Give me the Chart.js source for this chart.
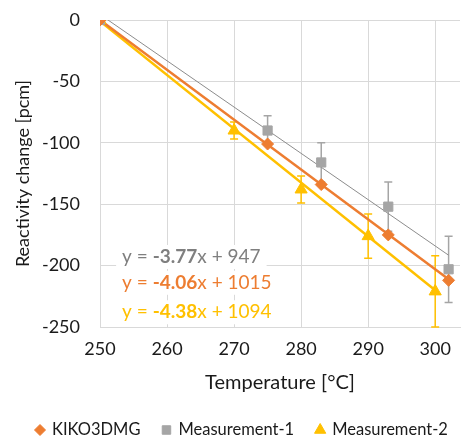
<!DOCTYPE html>
<html>
<head>
<meta charset="utf-8">
<script src="https://cdn.jsdelivr.net/npm/chart.js@4"></script>
<style>
  html, body { margin: 0; padding: 0; background: #fff; }
</style>
</head>
<body>
<canvas id="chart" width="468" height="439"></canvas>
<script>
// values
const seriesNames = ["KIKO3DMG", "Measurement-1", "Measurement-2"];
const kikoTemps = [250, 275, 283, 293, 302];
const kikoValues = [0, -101, -134, -175, -212];
const meas1Temps = [250, 275, 283, 293, 302];
const meas1Values = [0, -90, -116, -152, -203];
const meas1Errors = [0, 12, 16, 20, 27];
const meas2Temps = [250, 270, 280, 290, 300];
const meas2Values = [0, -90, -138, -176, -221];
const meas2Errors = [0, 7, 11, 18, 29];
const trendSlopes = [-4.06, -3.77, -4.38];
const trendIntercepts = [1015, 947, 1094];

const ORANGE = "#ED7D31";
const GRAY = "#A5A5A5";
const GRAY_LINE = "#8C8C8C";
const YELLOW = "#FFC000";
const TEXT = "#1a1a1a";
const FONT = "Lato";

const toPoints = (xs, ys) => xs.map((x, i) => ({ x: x, y: ys[i] }));

const trendPoints = (xs, k) => {
  const lo = Math.min(...xs), hi = Math.max(...xs);
  return [lo, hi].map((x) => ({ x: x, y: trendSlopes[k] * x + trendIntercepts[k] }));
};

// error bars, drawn under the markers
const errorBars = {
  id: "errorBars",
  beforeDatasetsDraw(chart) {
    const { ctx, scales } = chart;
    const sets = [
      { xs: meas1Temps, ys: meas1Values, err: meas1Errors, color: GRAY },
      { xs: meas2Temps, ys: meas2Values, err: meas2Errors, color: YELLOW },
    ];
    ctx.save();
    sets.forEach((s) => {
      ctx.strokeStyle = s.color;
      ctx.lineWidth = 1.5;
      s.xs.forEach((x, i) => {
        if (!s.err[i]) return;
        const px = scales.x.getPixelForValue(x);
        const top = scales.y.getPixelForValue(s.ys[i] + s.err[i]);
        const bot = scales.y.getPixelForValue(s.ys[i] - s.err[i]);
        ctx.beginPath();
        ctx.moveTo(px, top); ctx.lineTo(px, bot);
        ctx.moveTo(px - 4, top); ctx.lineTo(px + 4, top);
        ctx.moveTo(px - 4, bot); ctx.lineTo(px + 4, bot);
        ctx.stroke();
      });
    });
    ctx.restore();
  },
};

// trendline equations (white box behind, like Excel labels)
const equations = {
  id: "equations",
  afterDatasetsDraw(chart) {
    const { ctx, scales } = chart;
    const colors = [ORANGE, "#7F7F7F", YELLOW];
    const rows = [1, 0, 2];
    const anchorsY = [-193, -214, -238];
    const x0 = scales.x.getPixelForValue(253.3);
    ctx.save();
    ctx.textBaseline = "middle";
    rows.forEach((k, r) => {
      const y = scales.y.getPixelForValue(anchorsY[r]);
      const parts = [
        ["y = ", "normal"],
        [trendSlopes[k].toFixed(2), "bold"],
        ["x + " + trendIntercepts[k], "normal"],
      ];
      let w = 0;
      parts.forEach(([t, fw]) => {
        ctx.font = fw + " 19px " + FONT;
        w += ctx.measureText(t).width;
      });
      ctx.fillStyle = "#fff";
      ctx.fillRect(x0 - 6, y - 12, w + 12, 24);
      let x = x0;
      ctx.fillStyle = colors[k];
      parts.forEach(([t, fw]) => {
        ctx.font = fw + " 19px " + FONT;
        ctx.fillText(t, x, y);
        x += ctx.measureText(t).width;
      });
    });
    ctx.restore();
  },
};

// legend row along the bottom, markers drawn with Chart.js' point helper
const bottomLegend = {
  id: "bottomLegend",
  afterDraw(chart) {
    const { ctx } = chart;
    const styles = [
      { shape: "rectRot", r: 5.5, color: ORANGE },
      { shape: "rect", r: 6, color: GRAY },
      { shape: "triangle", r: 6.5, color: YELLOW },
    ];
    const y = 430;
    let x = 40;
    ctx.save();
    ctx.font = "16.5px " + FONT;
    ctx.textBaseline = "middle";
    seriesNames.forEach((name, i) => {
      const st = styles[i];
      ctx.fillStyle = st.color;
      ctx.strokeStyle = st.color;
      ctx.lineWidth = 1;
      Chart.helpers.drawPoint(ctx, { pointStyle: st.shape, radius: st.r, borderWidth: 1 }, x, y);
      ctx.fillStyle = TEXT;
      ctx.fillText(name, x + 12, y);
      x += 12 + ctx.measureText(name).width + 26;
    });
    ctx.restore();
  },
};

new Chart(document.getElementById("chart"), {
  type: "scatter",
  data: {
    datasets: [
      {
        label: seriesNames[0],
        data: toPoints(kikoTemps, kikoValues),
        pointStyle: "rectRot",
        pointRadius: 6,
        backgroundColor: ORANGE,
        borderColor: ORANGE,
        order: 0,
      },
      {
        label: seriesNames[1],
        data: toPoints(meas1Temps, meas1Values),
        pointStyle: "rect",
        pointRadius: 6.5,
        backgroundColor: GRAY,
        borderColor: GRAY,
        order: 0,
      },
      {
        label: seriesNames[2],
        data: toPoints(meas2Temps, meas2Values),
        pointStyle: "triangle",
        pointRadius: 7,
        backgroundColor: YELLOW,
        borderColor: YELLOW,
        order: 0,
      },
      {
        label: "trend-kiko",
        data: trendPoints(kikoTemps, 0),
        showLine: true,
        borderColor: ORANGE,
        borderWidth: 2.5,
        pointRadius: 0,
        order: 2,
      },
      {
        label: "trend-meas1",
        data: trendPoints(meas1Temps, 1),
        showLine: true,
        borderColor: GRAY_LINE,
        borderWidth: 1,
        pointRadius: 0,
        order: 3,
      },
      {
        label: "trend-meas2",
        data: trendPoints(meas2Temps, 2),
        showLine: true,
        borderColor: YELLOW,
        borderWidth: 2.5,
        pointRadius: 0,
        order: 2,
      },
    ],
  },
  options: {
    responsive: false,
    animation: false,
    layout: { padding: { top: 20, right: 0, left: 12, bottom: 40 } },
    plugins: {
      tooltip: { enabled: false },
      legend: { display: false },
    },
    scales: {
      x: {
        type: "linear",
        min: 250,
        max: 303.7,
        afterFit: (s) => { s.height = 72; },
        ticks: { stepSize: 10, includeBounds: false, padding: 2, color: TEXT, font: { family: FONT, size: 18 } },
        grid: { color: "#D9D9D9", tickColor: "transparent", tickLength: 9 },
        border: { color: "#D9D9D9" },
        title: {
          display: true,
          text: "Temperature [°C]",
          color: TEXT,
          font: { family: FONT, size: 20 },
          padding: { top: 8 },
        },
      },
      y: {
        min: -250,
        max: 0,
        afterFit: (s) => { s.width = 88; },
        ticks: { stepSize: 50, padding: 4, color: TEXT, font: { family: FONT, size: 18 } },
        grid: { color: "#D9D9D9", tickColor: "transparent", tickLength: 16 },
        border: { color: "#D9D9D9" },
        title: {
          display: true,
          text: "Reactivity change [pcm]",
          color: TEXT,
          font: { family: FONT, size: 18 },
          padding: 0,
        },
      },
    },
  },
  plugins: [errorBars, equations, bottomLegend],
});
</script>
</body>
</html>
